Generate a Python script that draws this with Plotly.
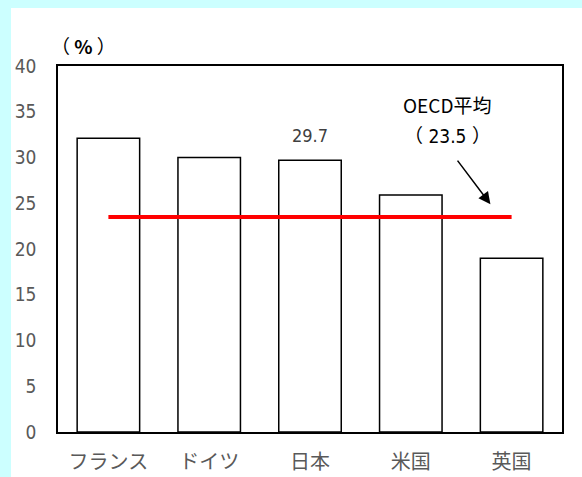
import plotly.graph_objects as go

# Category labels and values (%)
countries = ["フランス", "ドイツ", "日本", "米国", "英国"]
values = [32.1, 30.0, 29.7, 25.9, 19.0]
oecd_avg = 23.5
y_ticks = [0, 5, 10, 15, 20, 25, 30, 35, 40]

W, H = 582, 477
L, R, T, B = 58, 20, 66, 45
pw, ph = W - L - R, H - T - B

NUM_FONT = "DejaVu Sans Condensed, Liberation Sans Narrow, Noto Sans CJK JP, sans-serif"
JP_FONT = "Noto Sans CJK JP, sans-serif"

fig = go.Figure()

fig.add_trace(go.Bar(
    x=countries, y=values, width=0.62,
    marker=dict(color="white", line=dict(color="black", width=1.5)),
    showlegend=False, hoverinfo="skip",
))

# OECD average line, from the first to the last category
fig.add_trace(go.Scatter(
    x=[countries[0], countries[-1]], y=[oecd_avg, oecd_avg],
    mode="lines", line=dict(color="#ff0000", width=4),
    showlegend=False, hoverinfo="skip",
))

# white panel over the cyan page background
fig.add_shape(
    type="rect", xref="paper", yref="paper", layer="below",
    x0=(11 - L) / pw, x1=(W - L + 40) / pw,
    y0=-(B + 40) / ph, y1=1 + (T - 8) / ph,
    fillcolor="white", line=dict(width=0),
)

annotations = [
    # value label above Japan
    dict(x="日本", y=values[2], text=f"{values[2]}", showarrow=False,
         yshift=25, font=dict(family=NUM_FONT, size=18, color="#404040")),
    # OECD average caption
    dict(x=3.36, y=35.8, text="OECD平均", showarrow=False,
         xanchor="center", yanchor="middle",
         font=dict(family=JP_FONT, size=19, color="black")),
    dict(x=3.36, y=32.3, text="（ 23.5 ）", showarrow=False,
         xanchor="center", yanchor="middle",
         font=dict(family=NUM_FONT, size=19, color="black")),
    # arrow pointing at the average line
    dict(x=3.79, y=24.9, ax=-34, ay=-45, text="", showarrow=True,
         arrowhead=2, arrowsize=1.6, arrowwidth=1.5, arrowcolor="black"),
    # unit label
    dict(xref="paper", yref="paper", x=(83 - L) / pw, y=1 + (T - 46) / ph,
         xanchor="center", yanchor="middle",
         text="（ <b>%</b> ）", showarrow=False,
         font=dict(family=JP_FONT, size=19, color="black")),
]

fig.update_layout(
    width=W, height=H,
    margin=dict(l=L, r=R, t=T, b=B, autoexpand=False),
    paper_bgcolor="#ccffff",
    plot_bgcolor="white",
    annotations=annotations,
    xaxis=dict(
        automargin=False,
        showline=True, linecolor="black", linewidth=1.5, mirror=True,
        showgrid=False, ticks="", ticklabelstandoff=11,
        tickfont=dict(family=JP_FONT, size=20, color="#595959"),
        range=[-0.5, 4.5],
    ),
    yaxis=dict(
        automargin=False,
        range=[0, 40], tickvals=y_ticks,
        showline=True, linecolor="black", linewidth=1.5, mirror=True,
        showgrid=False, zeroline=False, ticks="", ticklabelstandoff=16,
        tickfont=dict(family=NUM_FONT, size=19, color="#595959"),
    ),
)

fig.write_html("out.html")
